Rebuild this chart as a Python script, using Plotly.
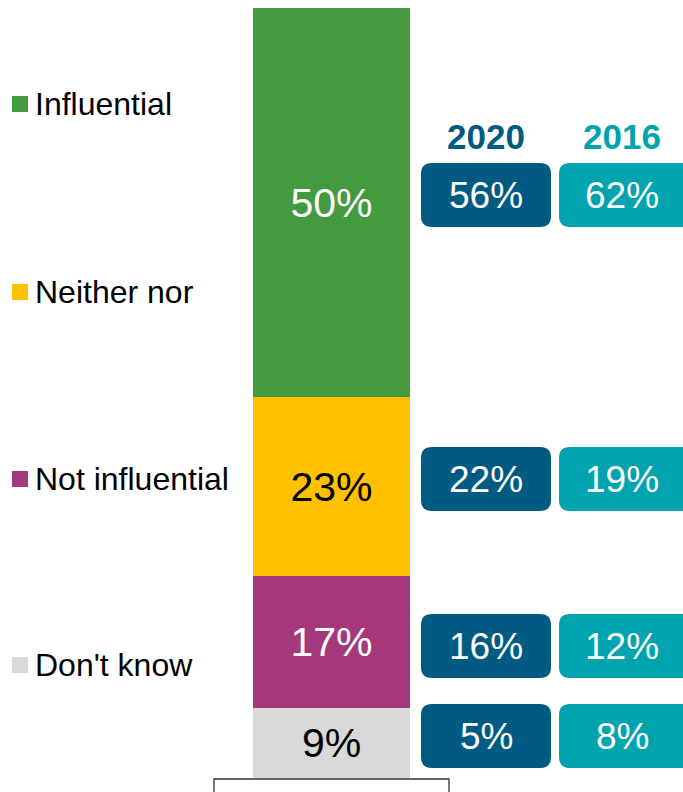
import plotly.graph_objects as go

# ---- data ----
categories = ["Influential", "Neither nor", "Not influential", "Don't know"]
values_current = [50, 23, 17, 9]
values_2020 = [56, 22, 16, 5]
values_2016 = [62, 19, 12, 8]
year_labels = ["2020", "2016"]

colors = ["#449A3E", "#FFC000", "#A4387A", "#D9D9D9"]
text_colors = ["white", "black", "white", "black"]
c2020 = "#005A82"
c2016 = "#00A3AE"

W, H = 683, 792
PX_PER_UNIT = 7.78
BAR_BOTTOM_PX = 778
y_top = BAR_BOTTOM_PX / PX_PER_UNIT
y_bot = -(H - BAR_BOTTOM_PX) / PX_PER_UNIT

fig = go.Figure()

# stacked from bottom: Don't know, Not influential, Neither nor, Influential
for cat, v, col, tc in zip(categories[::-1], values_current[::-1], colors[::-1], text_colors[::-1]):
    fig.add_trace(go.Bar(
        x=[331.5], y=[v], width=[157], name=cat,
        marker=dict(color=col, line=dict(width=0)),
        text=[f"{v}%"], textposition="inside", insidetextanchor="middle",
        textfont=dict(size=41, color=tc, family="Liberation Sans"),
        hoverinfo="skip", showlegend=False,
    ))

shapes = []
annotations = []

def py2paper(py):
    return 1 - py / H

def rounded_rect(x0, x1, y0, y1, r, color):
    X = lambda x: x / W
    Y = lambda y: 1 - y / H
    rx, ry = r / W, r / H
    a, b, c, d = X(x0), X(x1), Y(y0), Y(y1)
    path = (f"M {a+rx},{c} L {b-rx},{c} Q {b},{c} {b},{c-ry} "
            f"L {b},{d+ry} Q {b},{d} {b-rx},{d} "
            f"L {a+rx},{d} Q {a},{d} {a},{d+ry} "
            f"L {a},{c-ry} Q {a},{c} {a+rx},{c} Z")
    return dict(type="path", xref="paper", yref="paper", path=path,
                fillcolor=color, line=dict(width=0), layer="below")

def ann(x, y, text, size, color, anchor="center"):
    return dict(x=x / W, y=py2paper(y), xref="paper", yref="paper", text=text,
                showarrow=False, xanchor=anchor, yanchor="middle",
                font=dict(size=size, color=color, family="Liberation Sans"))

# legend (custom)
legend_y = [104, 292, 479, 665]
for cat, col, ly in zip(categories, colors, legend_y):
    shapes.append(dict(type="rect", xref="paper", yref="paper",
                       x0=12 / W, x1=28 / W, y0=py2paper(ly + 8), y1=py2paper(ly - 8),
                       fillcolor=col, line=dict(width=0), layer="below"))
    annotations.append(ann(33, ly, cat, 32, "black", anchor="left"))

# year headers
annotations.append(ann(486, 136, f"<b>{year_labels[0]}</b>", 35, c2020))
annotations.append(ann(622, 136, f"<b>{year_labels[1]}</b>", 35, c2016))

# comparison boxes (centre pixel rows)
box_centers = [195, 479, 646, 736]
for v20, v16, cy in zip(values_2020, values_2016, box_centers):
    shapes.append(rounded_rect(421, 551, cy - 32, cy + 32, 11, c2020))
    shapes.append(rounded_rect(559, 694, cy - 32, cy + 32, 11, c2016))
    annotations.append(ann(486, cy, f"{v20}%", 37, "white"))
    annotations.append(ann(622, cy, f"{v16}%", 37, "white"))

# bottom outlined box
shapes.append(dict(type="rect", xref="paper", yref="paper",
                   x0=214 / W, x1=449 / W, y0=py2paper(800), y1=py2paper(779),
                   fillcolor="white", line=dict(color="#333333", width=1.3)))

fig.update_layout(
    width=W, height=H, margin=dict(l=0, r=0, t=0, b=0),
    barmode="stack", bargap=0,
    plot_bgcolor="white", paper_bgcolor="white",
    xaxis=dict(range=[0, W], visible=False, fixedrange=True),
    yaxis=dict(range=[y_bot, y_top], visible=False, fixedrange=True),
    shapes=shapes, annotations=annotations,
    font=dict(family="Liberation Sans"),
)

fig.write_html("out.html", config={"displayModeBar": False},
               post_script="document.body.style.margin='0';document.body.style.overflow='hidden';")
